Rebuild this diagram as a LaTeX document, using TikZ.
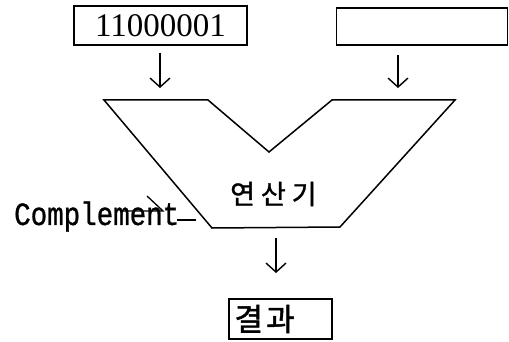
\documentclass[tikz,border=0pt]{standalone}
\usepackage{fontspec}
\setmainfont{Liberation Serif}
\newfontfamily\digitfont{Liberation Serif}
\newfontfamily\krwide[LetterSpace=22,FakeBold=1.2]{Noto Sans CJK KR}
\newfontfamily\krres[LetterSpace=10,FakeBold=1.5]{Noto Sans CJK KR}
\newfontfamily\monofont[FakeBold=1]{Liberation Mono}
\usetikzlibrary{arrows.meta}
\begin{document}
\begin{tikzpicture}[x=1pt,y=-1pt,
  regbox/.style={draw,line width=1.8pt,inner sep=0pt},
  downarrow/.style={line width=1.6pt,-{Straight Barb[length=9pt,width=20pt,line width=1.4pt]}},
  alu/.style={line width=1.5pt,line join=miter},
  thinline/.style={line width=1.3pt}]
\useasboundingbox (0,0) rectangle (509,342);
\fill[white] (0,0) rectangle (509,342);
% input registers
\node[regbox,minimum width=173pt,minimum height=39pt,font=\digitfont\fontsize{33}{33}\selectfont] (a) at (160.5,25.5) {11000001};
\node[regbox,minimum width=171pt,minimum height=37pt] (b) at (422,26.5) {};
% arrow end points
\coordinate (a1) at (160,53);
\coordinate (a2) at (160,88);
\coordinate (b1) at (398,55);
\coordinate (b2) at (398,88);
\draw[downarrow] (a1) -- (a2);
\draw[downarrow] (b1) -- (b2);
% ALU shape
\draw[alu] (104,100) -- (208,100) -- (269,152) -- (332,100) -- (455,100) -- (340,227) -- (212,228) -- cycle;
\node[font=\krwide\fontsize{27}{27}\selectfont,anchor=west,inner sep=0pt] (alu) at (230,194) {연산기};
% complement input
\node[font=\monofont\fontsize{27.5}{27.5}\selectfont,anchor=base west,inner sep=0pt] (comp) at (14,225) {\scalebox{1}[1.18]{Complement}};
\coordinate (c1) at (122,211);
\coordinate (c2) at (163,211);
\coordinate (c3) at (147,196);
\draw[thinline] (c1) -- (c2) -- (c3);
\coordinate (d1) at (177,220);
\coordinate (d2) at (196,220);
\draw[thinline] (d1) -- (d2);
% output
\coordinate (o1) at (276,238);
\coordinate (o2) at (276,273);
\draw[downarrow] (o1) -- (o2);
\node[regbox,minimum height=40pt,text width=92pt,align=left,inner xsep=5.5pt,font=\krres\fontsize{31}{31}\selectfont] (r) at (280.5,319) {결과};
\end{tikzpicture}
\end{document}
